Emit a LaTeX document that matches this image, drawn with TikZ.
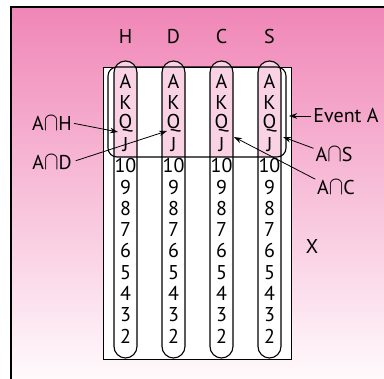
\documentclass[tikz,border=0pt]{standalone}
\usepackage{fontspec}
\usepackage{graphicx}
\setmainfont{PT Sans}
\usetikzlibrary{arrows.meta}
\definecolor{bgtop}{RGB}{240,134,183}
\definecolor{bgbot}{RGB}{255,250,252}
\definecolor{colpink}{RGB}{249,211,228}
\newcommand{\mycap}{\scalebox{1.05}[1.25]{$\cap$}}
\begin{document}
\begin{tikzpicture}[x=1pt,y=-1pt,
  card/.style={inner sep=0pt, font=\fontsize{20}{22}\selectfont},
  lbl/.style={inner sep=0pt, font=\fontsize{20}{22}\selectfont},
  oval/.style={draw=black, line width=1.1pt, rounded corners=11.5pt},
  ptr/.style={-{Stealth[length=8pt,width=5.5pt]}, line width=0.8pt}]
\useasboundingbox (0,0) rectangle (384,379);
\shade[top color=bgtop,bottom color=bgbot] (11,7) rectangle (384,379);
\draw[line width=1.2pt] (11,379) -- (11,7) -- (384,7);
\draw[fill=white, line width=0.9pt] (103,67) rectangle (291,359);
\foreach \c in {125.5,173.5,221.5,269.5} {
  \begin{scope}
   \clip (\c-12,58) rectangle (\c+12,157);
   \fill[colpink, rounded corners=11.5pt] (\c-11.5,61) rectangle (\c+11.5,358);
  \end{scope}
  \draw[oval] (\c-11.5,61) rectangle (\c+11.5,358);
}
\draw[line width=1.1pt, rounded corners=9pt] (108,67) rectangle (286,157);
\foreach \s/\c in {h/125.5,d/173.5,c/221.5,s/269.5} {
  \foreach \r [count=\i from 0] in {A,K,Q,J,10,9,8,7,6,5,4,3,2} {
    \node[card] (\s\r) at (\c,81+21.25*\i) {\r};
  }
}
\node[lbl] (H) at (125.5,37) {H};
\node[lbl] (D) at (173.5,37) {D};
\node[lbl] (C) at (221.5,37) {C};
\node[lbl] (S) at (269.5,37) {S};
\node[lbl] (AH) at (52,123) {A\mycap H};
\node[lbl] (AD) at (52,162) {A\mycap D};
\node[lbl] (EA) at (346,116) {Event A};
\node[lbl] (AS) at (334,154) {A\mycap S};
\node[lbl] (AC) at (336,187) {A\mycap C};
\node[lbl] (X) at (312,247) {X};
\coordinate (tH) at (118,132);
\coordinate (tD) at (167,131);
\coordinate (tEA) at (289,116);
\coordinate (tS) at (283,137);
\coordinate (tC) at (234,137);
\draw[ptr, shorten <=2pt] (AH.east) -- (tH);
\draw[ptr, shorten <=4pt] (AD.east) -- (tD);
\draw[ptr, shorten <=2pt] (EA.west) -- (tEA);
\draw[ptr, shorten <=2pt] (AS.165) -- (tS);
\draw[ptr, shorten <=2pt] (AC.160) -- (tC);
\end{tikzpicture}
\end{document}
